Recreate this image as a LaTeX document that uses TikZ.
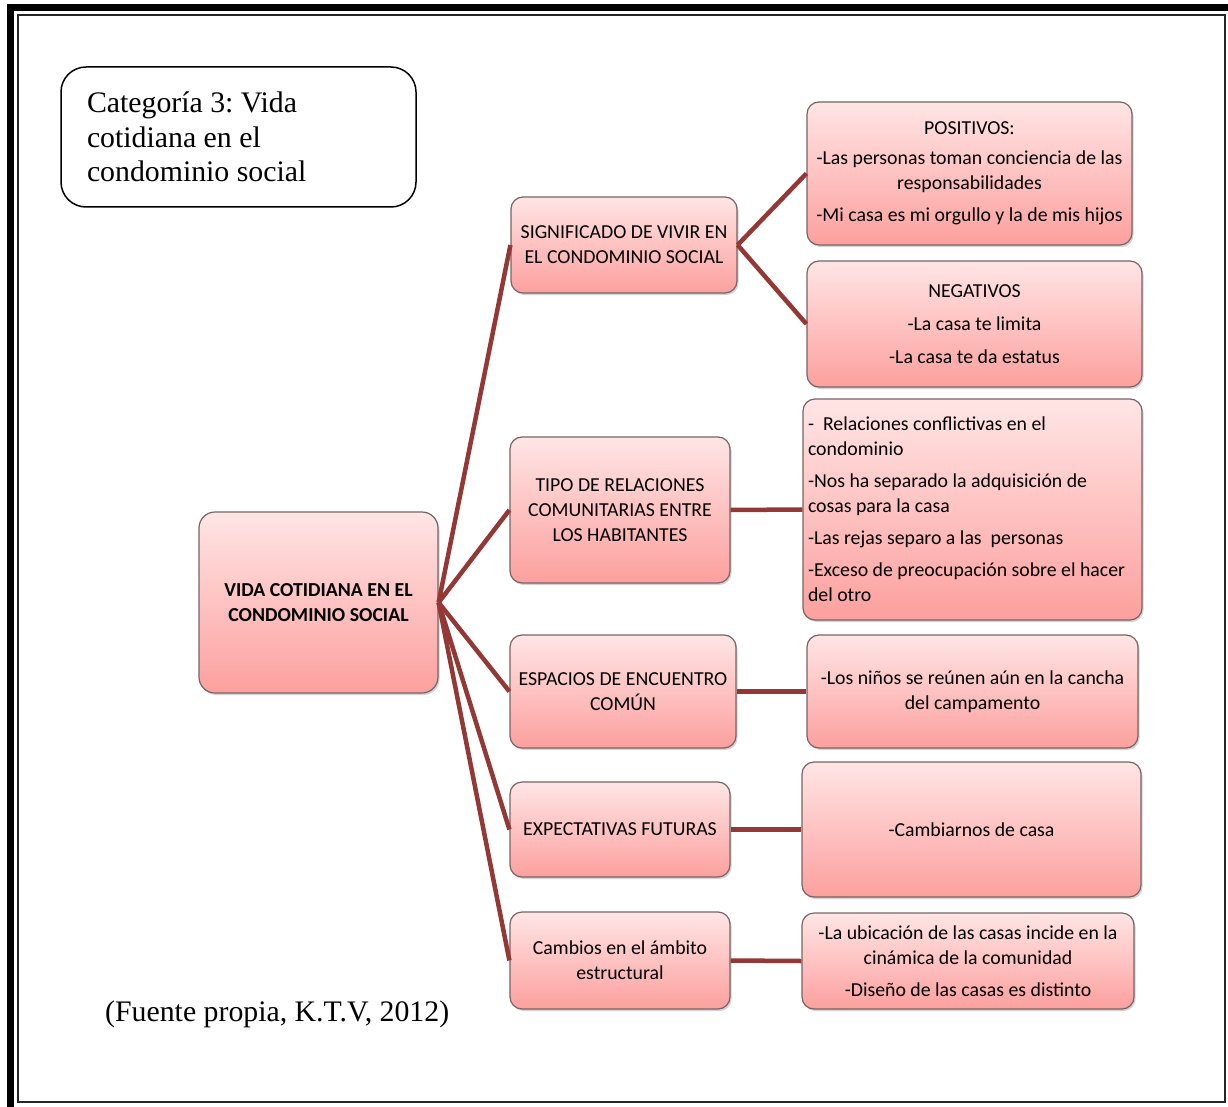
\documentclass[tikz,border=0pt]{standalone}
\usepackage{fontspec}
\setmainfont{Carlito}
\newfontfamily\serifff{Liberation Serif}
\usetikzlibrary{shadows}
\definecolor{boxtop}{RGB}{255,229,229}
\definecolor{boxbot}{RGB}{252,160,158}
\definecolor{connc}{RGB}{148,56,54}
\definecolor{boxline}{RGB}{120,100,100}
\frenchspacing
\begin{document}
\frenchspacing
\begin{tikzpicture}[x=1pt,y=-1pt,
  box/.style={rectangle, rounded corners=12pt, draw=boxline, line width=1.2pt,
    top color=boxtop, bottom color=boxbot,
    drop shadow={shadow xshift=1.5pt, shadow yshift=-2pt, opacity=0.35},
    font=\fontsize{19.8}{25}\selectfont, align=center, inner sep=0pt},
  conn/.style={draw=connc, line width=4.5pt},
  titlebox/.style={draw=black, line width=1.5pt, rounded corners=25pt, fill=white,
    inner xsep=26pt, inner ysep=0pt, align=flush left,
    font=\serifff\fontsize{29.8}{34.5}\selectfont},
  srctext/.style={anchor=west, inner sep=0pt, font=\serifff\fontsize{29.8}{34.5}\selectfont},
]
\useasboundingbox (0,0) rectangle (1228,1107);
% frame
\draw[line width=7pt, line cap=butt] (10,8) -- (1228,8);
\draw[line width=7pt, line cap=butt] (10,4.5) -- (10,1107);
\draw[line width=2pt, black!85] (18,15) rectangle (1225,1102);

% title
\node[titlebox, minimum width=355pt, minimum height=140pt, text width=303pt] (title) at (238.5,137)
  {Categoría 3: Vida\\cotidiana en el\\condominio social};
\node[srctext] (src) at (105,1014) {(Fuente propia, K.T.V, 2012)};

% root
\node[box, rounded corners=16pt, minimum width=239pt, minimum height=181pt,
  font=\fontsize{19.8}{25}\selectfont\bfseries] (root) at (318.5,602.5)
  {VIDA COTIDIANA EN EL\\CONDOMINIO SOCIAL};

% middle
\node[box, minimum width=226pt, minimum height=96pt] (m1) at (624,245)
  {SIGNIFICADO DE VIVIR EN\\EL CONDOMINIO SOCIAL};
\node[box, minimum width=220pt, minimum height=146pt] (m2) at (620,510)
  {TIPO DE RELACIONES\\COMUNITARIAS ENTRE\\LOS HABITANTES};
\node[box, minimum width=226pt, minimum height=113pt] (m3) at (623,691.5)
  {ESPACIOS DE ENCUENTRO\\COMÚN};
\node[box, minimum width=220pt, minimum height=95pt] (m4) at (620,829.5)
  {EXPECTATIVAS FUTURAS};
\node[box, minimum width=220pt, minimum height=97pt] (m5) at (620,960.5)
  {Cambios en el ámbito\\estructural};

% right
\node[box, minimum width=325pt, minimum height=143pt] (r1) at (969.5,173.5)
  {POSITIVOS:\\[5pt]-Las personas toman conciencia de las\\responsabilidades\\[7pt]-Mi casa es mi orgullo y la de mis hijos};
\node[box, minimum width=335pt, minimum height=126pt] (r2) at (974.5,324)
  {NEGATIVOS\\[8pt]-La casa te limita\\[8pt]-La casa te da estatus};
\node[box, minimum width=339pt, minimum height=221pt, text width=329pt, align=flush left] (r3) at (972.5,509.5)
  {-\ \ Relaciones conflictivas en el\\condominio\\[7pt]-Nos ha separado la adquisición de\\cosas para la casa\\[7pt]-Las rejas separo a las\ \ personas\\[7pt]-Exceso de preocupación sobre el hacer\\del otro};
\node[box, minimum width=331pt, minimum height=113pt] (r4) at (972.5,691.5)
  {-Los niños se reúnen aún en la cancha\\del campamento};
\node[box, minimum width=339pt, minimum height=135pt] (r5) at (971.5,829.5)
  {-Cambiarnos de casa};
\node[box, minimum width=332pt, minimum height=96pt] (r6) at (968,961)
  {-La ubicación de las casas incide en la\\cinámica de la comunidad\\[7pt]-Diseño de las casas es distinto};

% connectors
\foreach \m in {m1,m2,m3,m4,m5} \draw[conn] (root.east) -- (\m.west);
\draw[conn] (m1.east) -- (r1.west);
\draw[conn] (m1.east) -- (r2.west);
\draw[conn] (m2.east) -- (r3.west);
\draw[conn] (m3.east) -- (r4.west);
\draw[conn] (m4.east) -- (r5.west);
\draw[conn] (m5.east) -- (r6.west);
\end{tikzpicture}
\end{document}
